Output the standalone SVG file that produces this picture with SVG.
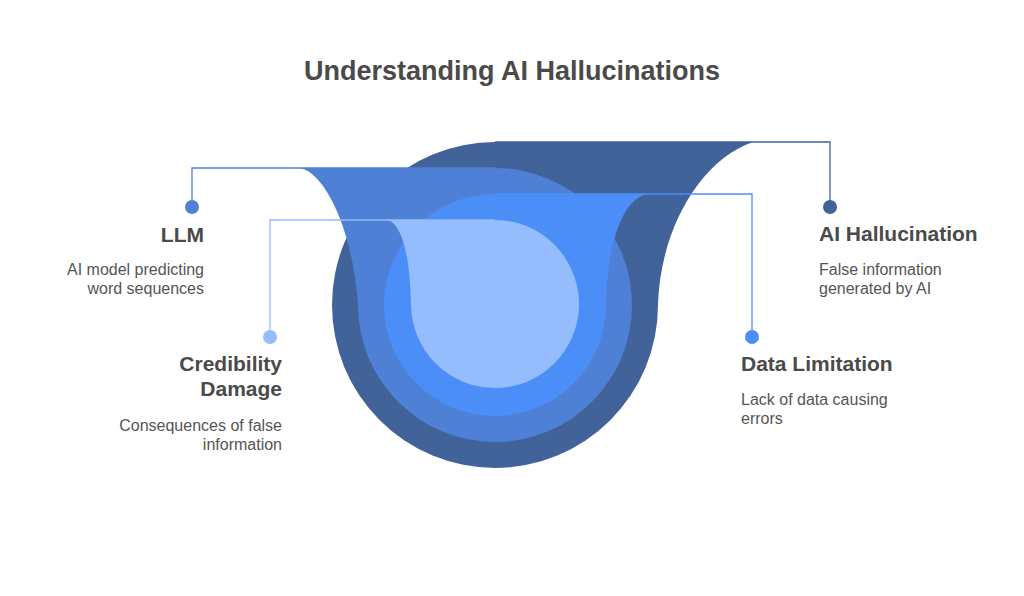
<svg xmlns="http://www.w3.org/2000/svg" width="1024" height="596" viewBox="0 0 1024 596">
<style>
.title{font-family:"Liberation Sans",Arial,sans-serif;font-weight:bold;font-size:27px;fill:#4a4a4a}
.h{font-family:"Liberation Sans",Arial,sans-serif;font-weight:bold;font-size:21px;fill:#4a4a4a}
.d{font-family:"Liberation Sans",Arial,sans-serif;font-size:16px;fill:#555555}
.ln{fill:none;stroke-width:1.3}
</style>
<rect width="1024" height="596" fill="#ffffff"/>
<text class="title" x="512" y="80" text-anchor="middle">Understanding AI Hallucinations</text>
<g id="shapes">
<path id="s-hallucination" d="M 495 142 L 753 142 C 700 160 660 230 658 305 A 163 163 0 1 1 495 142 Z" fill="#426399"/>
<path id="s-llm" d="M 298 168 L 495 168 A 137 137 0 1 1 358 305 C 352 220 320 168 298 168 Z" fill="#4e80d6"/>
<path id="s-data" d="M 495 194 L 647 194 C 620 200 607 250 606 305 A 111 111 0 1 1 495 194 Z" fill="#4c8ef7"/>
<path id="s-cred" d="M 387 220 L 495 220 A 84 84 0 1 1 411 305 C 410 250 400 222 387 220 Z" fill="#95bcfd"/>
</g>
<g id="connectors">
<path class="ln" d="M 192 207 V 168 H 495" stroke="#4e80d6"/>
<path class="ln" d="M 270 337 V 220 H 495" stroke="#95bcfd"/>
<path class="ln" d="M 830 207 V 142 H 495" stroke="#426399"/>
<path class="ln" d="M 752 337 V 194 H 495" stroke="#4c8ef7"/>
</g>
<g id="node-llm">
<circle cx="192" cy="207" r="7" fill="#4e80d6"/>
<text class="h" x="204" y="242" text-anchor="end">LLM</text>
<text class="d" x="204" y="275" text-anchor="end">AI model predicting</text>
<text class="d" x="204" y="294" text-anchor="end">word sequences</text>
</g>
<g id="node-cred">
<circle cx="270" cy="337" r="7" fill="#95bcfd"/>
<text class="h" x="282" y="371" text-anchor="end">Credibility</text>
<text class="h" x="282" y="396" text-anchor="end">Damage</text>
<text class="d" x="282" y="431" text-anchor="end">Consequences of false</text>
<text class="d" x="282" y="450" text-anchor="end">information</text>
</g>
<g id="node-hall">
<circle cx="830" cy="207" r="7" fill="#426399"/>
<text class="h" x="819" y="241">AI Hallucination</text>
<text class="d" x="819" y="275">False information</text>
<text class="d" x="819" y="294">generated by AI</text>
</g>
<g id="node-data">
<circle cx="752" cy="337" r="7" fill="#4c8ef7"/>
<text class="h" x="741" y="371">Data Limitation</text>
<text class="d" x="741" y="405">Lack of data causing</text>
<text class="d" x="741" y="424">errors</text>
</g>
</svg>
